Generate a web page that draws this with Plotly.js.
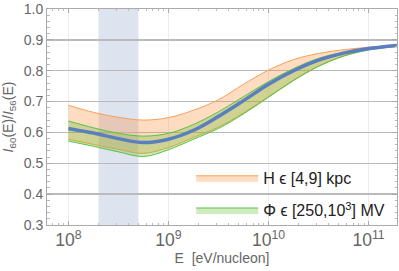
<!DOCTYPE html>
<html>
<head>
<meta charset="utf-8">
<script src="https://cdn.plot.ly/plotly-3.0.1.min.js"></script>
<style>html,body{margin:0;padding:0;background:#fff;}#chart{width:399px;height:271px;}</style>
</head>
<body>
<div id="chart"></div>
<script>
// Energy grid [eV/nucleon]
const energy = [1e8, 1.78e8, 3.16e8, 5.62e8, 1e9, 1.78e9, 3.16e9, 5.62e9, 1e10, 1.78e10, 3.16e10, 5.62e10, 1e11, 1.92e11];
// Central ratio I60/I56
const ratioCentral = [0.613, 0.598, 0.580, 0.567, 0.578, 0.607, 0.652, 0.703, 0.756, 0.800, 0.834, 0.857, 0.872, 0.882];
// Halo height band H in [4,9] kpc
const hUpper = [0.688, 0.665, 0.649, 0.640, 0.648, 0.672, 0.706, 0.756, 0.802, 0.836, 0.856, 0.868, 0.876, 0.883];
const hLower = [0.578, 0.561, 0.545, 0.532, 0.551, 0.584, 0.617, 0.663, 0.716, 0.770, 0.815, 0.848, 0.868, 0.880];
// Solar modulation band Phi in [250,1000] MV
const phiUpper = [0.637, 0.615, 0.597, 0.588, 0.597, 0.626, 0.667, 0.716, 0.765, 0.807, 0.840, 0.860, 0.874, 0.883];
const phiLower = [0.572, 0.555, 0.537, 0.522, 0.544, 0.578, 0.613, 0.660, 0.714, 0.768, 0.814, 0.847, 0.867, 0.879];
// Highlighted energy window
const windowRange = [2e8, 5e8];
const legendLabels = ["H \u03f5 [4,9] kpc", "\u03a6 \u03f5 [250,10<sup>3</sup>] MV"];

const orangeLine = 'rgb(246,162,86)';
const orangeFill = 'rgba(250,140,50,0.30)';
const greenLine = 'rgb(85,195,70)';
const greenFill = 'rgba(100,190,40,0.30)';

const traces = [
  {x: energy, y: hLower, mode: 'lines', line: {color: orangeLine, width: 1, shape: 'spline'}, showlegend: false, hoverinfo: 'skip'},
  {x: energy, y: hUpper, mode: 'lines', fill: 'tonexty', fillcolor: orangeFill, line: {color: orangeLine, width: 1, shape: 'spline'}, name: legendLabels[0], legend: 'legend'},
  {x: energy, y: phiLower, mode: 'lines', line: {color: greenLine, width: 1, shape: 'spline'}, showlegend: false, hoverinfo: 'skip'},
  {x: energy, y: phiUpper, mode: 'lines', fill: 'tonexty', fillcolor: greenFill, line: {color: greenLine, width: 1, shape: 'spline'}, name: legendLabels[1], legend: 'legend2'},
  {x: energy, y: ratioCentral, mode: 'lines', line: {color: 'rgb(91,126,190)', width: 3.5, shape: 'spline'}, showlegend: false}
];

const fam = 'Liberation Sans, Arial, sans-serif';
const tickFont = {family: fam, size: 14, color: '#666'};
const legendFont = {family: fam, size: 16, color: '#222'};

const layout = {
  width: 399, height: 271,
  margin: {l: 47, r: 2, t: 9, b: 46},
  paper_bgcolor: '#fff', plot_bgcolor: 'rgba(0,0,0,0)',
  showlegend: true,
  xaxis: {
    type: 'log', range: [7.786, 11.284], dtick: 1, exponentformat: 'power',
    showgrid: true, gridcolor: '#ececec', gridwidth: 1,
    ticks: 'inside', ticklen: 4, tickcolor: '#aaa',
    minor: {ticks: 'inside', ticklen: 2, tickcolor: '#bbb', dtick: 'D1', showgrid: false},
    showline: true, linecolor: '#aaa', linewidth: 1, mirror: 'ticks',
    tickfont: tickFont, zeroline: false,
    title: {text: 'E  [eV/nucleon]', font: {family: fam, size: 14, color: '#666'}, standoff: 0}
  },
  yaxis: {
    range: [0.3, 1.0], dtick: 0.1, tickformat: '.1f',
    showgrid: true, gridcolor: '#bababa', gridwidth: 1.5,
    ticks: 'inside', ticklen: 5, tickcolor: '#aaa',
    minor: {ticks: 'inside', ticklen: 2.5, tickcolor: '#bbb', dtick: 0.02, showgrid: false},
    showline: true, linecolor: '#aaa', linewidth: 1, mirror: 'ticks',
    tickfont: tickFont, zeroline: false,
    title: {text: '<i>I</i><sub>60</sub>(E)/<i>I</i><sub>56</sub>(E)', font: {family: fam, size: 14, color: '#666'}, standoff: 7}
  },
  shapes: [
    {type: 'rect', xref: 'x', yref: 'paper', x0: windowRange[0], x1: windowRange[1], y0: 0, y1: 1,
     fillcolor: 'rgb(221,227,239)', line: {width: 0}, layer: 'below'}
  ],
  legend: {x: 0.412, y: 0.218, xanchor: 'left', yanchor: 'middle', bgcolor: 'rgba(0,0,0,0)', borderwidth: 0, font: legendFont, itemwidth: 62},
  legend2: {x: 0.412, y: 0.069, xanchor: 'left', yanchor: 'middle', bgcolor: 'rgba(0,0,0,0)', borderwidth: 0, font: legendFont, itemwidth: 62}
};

Plotly.newPlot('chart', traces, layout, {displayModeBar: false, staticPlot: true});
</script>
</body>
</html>
